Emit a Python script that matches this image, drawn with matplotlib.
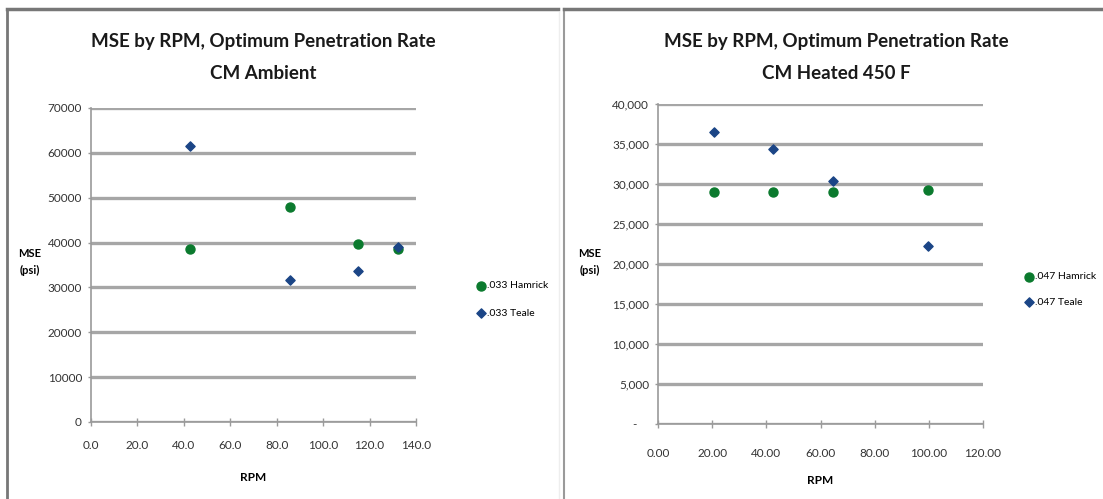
import matplotlib.pyplot as plt
from matplotlib.lines import Line2D
from matplotlib.ticker import FuncFormatter, MultipleLocator

plt.rcParams['font.family'] = ['Lato', 'DejaVu Sans']

## Data
# CM ambient, .033 cutters
amb_hamrick_rpm = [42.6, 85.7, 115.0, 132.2]
amb_hamrick_mse = [38500, 48000, 39600, 38500]
amb_teale_rpm = [42.6, 85.7, 115.0, 132.2]
amb_teale_mse = [61600, 31700, 33700, 39000]

# CM heated 450 F, .047 cutters
hot_hamrick_rpm = [20.8, 42.6, 64.7, 99.7]
hot_hamrick_mse = [29000, 29000, 29000, 29300]
hot_teale_rpm = [20.8, 42.6, 64.7, 99.7]
hot_teale_mse = [36500, 34400, 30400, 22200]

green = '#0b7a2e'
blue = '#1b4586'
grid = '#a6a6a6'
axis_gray = '#9a9a9a'

fig = plt.figure(figsize=(11.03, 4.99), dpi=100)

# panel frames
fig.add_artist(Line2D([7/1103, 7/1103], [0, 1 - 9/499], color='#777777', lw=2))
fig.add_artist(Line2D([7/1103, 558/1103], [1 - 9/499, 1 - 9/499], color='#777777', lw=2.5))
fig.add_artist(Line2D([559/1103, 559/1103], [0, 1 - 12/499], color='#eeeeee', lw=1))
fig.add_artist(Line2D([564/1103, 564/1103], [0, 1 - 9/499], color='#9a9a9a', lw=1.5))
fig.add_artist(Line2D([564/1103, 1103/1103], [1 - 9/499, 1 - 9/499], color='#777777', lw=2.5))


def style(ax, xpad):
    for s in ['top', 'right']:
        ax.spines[s].set_visible(False)
    for s in ['left', 'bottom']:
        ax.spines[s].set_color(axis_gray)
        ax.spines[s].set_linewidth(1.2)
    ax.grid(axis='y', color=grid, lw=2.4)
    ax.set_axisbelow(True)
    ax.tick_params(axis='both', colors=axis_gray, width=1,
                   labelsize=8.5, labelcolor='#333333')
    ax.tick_params(axis='x', direction='inout', length=6, pad=xpad)
    ax.tick_params(axis='y', direction='out', length=2.5, pad=4)


## CM Ambient
ax1 = fig.add_axes([91/1103, 1 - 422/499, 325/1103, 314/499])
ax1.scatter(amb_hamrick_rpm, amb_hamrick_mse, marker='o', s=42, color=green,
            label='.033 Hamrick', zorder=3)
ax1.scatter(amb_teale_rpm, amb_teale_mse, marker='D', s=22, color=blue,
            label='.033 Teale', zorder=3)
ax1.set_xlim(0, 140)
ax1.set_ylim(0, 70000)
ax1.xaxis.set_major_locator(MultipleLocator(20))
ax1.yaxis.set_major_locator(MultipleLocator(10000))
ax1.xaxis.set_major_formatter(FuncFormatter(lambda v, p: f'{v:.1f}'))
ax1.yaxis.set_major_formatter(FuncFormatter(lambda v, p: f'{v:.0f}'))
style(ax1, 10)
ax1.set_title('MSE by RPM, Optimum Penetration Rate\nCM Ambient',
              fontsize=13.5, fontweight='bold', color='#1a1a1a', pad=21,
              x=0.53, linespacing=2.05)
ax1.set_xlabel('RPM', fontsize=8.5, fontweight='bold', labelpad=15)
fig.text(30/1103, 1 - 262/499, 'MSE\n(psi)', fontsize=8, fontweight='bold',
         ha='center', va='center', linespacing=1.6)
ax1.legend(loc='center left', bbox_to_anchor=(1.165, 0.39), frameon=False,
           fontsize=7.5, handletextpad=0.0, labelspacing=1.75,
           handlelength=1.2, borderpad=0)

## CM Heated 450 F
ax2 = fig.add_axes([658/1103, 1 - 424/499, 325/1103, 320/499])
ax2.scatter(hot_hamrick_rpm, hot_hamrick_mse, marker='o', s=42, color=green,
            label='.047 Hamrick', zorder=3)
ax2.scatter(hot_teale_rpm, hot_teale_mse, marker='D', s=22, color=blue,
            label='.047 Teale', zorder=3)
ax2.set_xlim(0, 120)
ax2.set_ylim(0, 40000)
ax2.xaxis.set_major_locator(MultipleLocator(20))
ax2.yaxis.set_major_locator(MultipleLocator(5000))
ax2.xaxis.set_major_formatter(FuncFormatter(lambda v, p: f'{v:.2f}'))
ax2.yaxis.set_major_formatter(
    FuncFormatter(lambda v, p: '-    ' if v == 0 else f'{v:,.0f}'))
style(ax2, 14)
ax2.set_title('MSE by RPM, Optimum Penetration Rate\nCM Heated 450 F',
              fontsize=13.5, fontweight='bold', color='#1a1a1a', pad=18,
              x=0.55, linespacing=2.05)
ax2.set_xlabel('RPM', fontsize=8.5, fontweight='bold', labelpad=12)
fig.text(590/1103, 1 - 262/499, 'MSE\n(psi)', fontsize=8, fontweight='bold',
         ha='center', va='center', linespacing=1.6)
ax2.legend(loc='center left', bbox_to_anchor=(1.105, 0.42), frameon=False,
           fontsize=7.5, handletextpad=0.0, labelspacing=1.6,
           handlelength=1.2, borderpad=0)

fig.savefig('out.png', dpi=100, facecolor='white')
